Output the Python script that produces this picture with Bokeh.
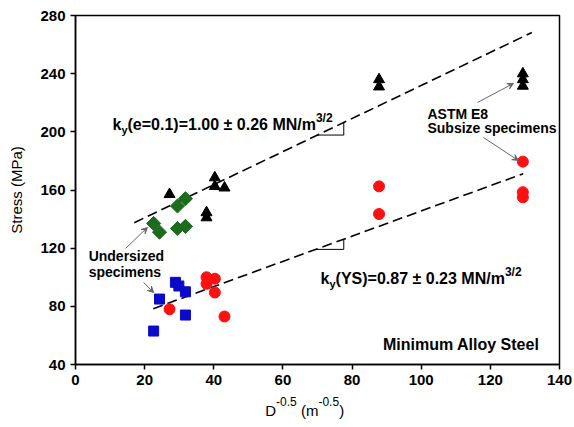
import numpy as np
from bokeh.plotting import figure
from bokeh.models import Range1d, FixedTicker, Label, Arrow, VeeHead, LinearAxis
from bokeh.embed import file_html
from bokeh.resources import INLINE

# ---------------- data ----------------
# ky(e=0.1) series: black triangles (standard) & green diamonds (undersized)
tri_x = [27.2, 37.9, 37.9, 40.3, 40.3, 43.1, 87.8, 87.8, 129.4, 129.4, 129.4]
tri_y = [157, 144.5, 141, 168.5, 162.5, 161.5, 236, 231, 240, 236, 231.5]
dia_x = [22.6, 24.3, 29.5, 31.8, 29.5, 31.8]
dia_y = [137, 131, 149, 154, 133.5, 135]
# ky(YS) series: red circles (standard) & blue squares (undersized)
circ_x = [27.2, 37.9, 37.9, 40.3, 40.3, 43.1, 87.8, 87.8, 129.4, 129.4, 129.4]
circ_y = [78, 100, 95.5, 99, 89.5, 73, 162.5, 143.5, 179.5, 158.5, 155]
sq_x = [22.6, 24.3, 28.9, 29.9, 31.8, 31.8]
sq_y = [63, 85, 96.5, 94, 90, 74]
# fitted Hall-Petch lines (end points)
fit_e_x = [17.0, 132.0]
fit_e_y = [137.5, 268.3]
fit_ys_x = [22.5, 129.5]
fit_ys_y = [78.4, 171.2]
x_ticks = [0, 20, 40, 60, 80, 100, 120, 140]
y_ticks = [40, 80, 120, 160, 200, 240, 280]

FONT = "Liberation Sans"
X0, X1 = 0, 140
FRAME_W = 574 - 75 - 15

p = figure(width=574, height=427, output_backend="svg", toolbar_location=None,
           x_range=Range1d(X0, X1), y_range=Range1d(40, 280),
           min_border_left=75, min_border_right=15, min_border_top=15, min_border_bottom=63)
p.background_fill_color = "white"
p.border_fill_color = "white"
p.outline_line_color = "black"
p.outline_line_width = 1.5
p.grid.visible = False

for ax in (p.xaxis[0], p.yaxis[0]):
    ax.axis_line_width = 1.5
    ax.major_tick_line_width = 1.5
    ax.major_tick_in = 0
    ax.major_tick_out = 5
    ax.minor_tick_line_color = None
    ax.major_label_text_font = FONT
    ax.major_label_text_font_style = "bold"
    ax.major_label_text_font_size = "15px"
    ax.major_label_text_color = "black"
p.xaxis.ticker = FixedTicker(ticks=x_ticks)
p.yaxis.ticker = FixedTicker(ticks=y_ticks)
p.yaxis.axis_label = "Stress (MPa)"
p.yaxis.axis_label_text_font = FONT
p.yaxis.axis_label_text_font_style = "normal"
p.yaxis.axis_label_text_font_size = "15px"
p.yaxis.axis_label_text_color = "black"
p.yaxis.axis_label_standoff = 12

# fitted lines
p.line(fit_e_x, fit_e_y, line_color="black", line_width=1.6, line_dash="10 5")
p.line(fit_ys_x, fit_ys_y, line_color="black", line_width=1.6, line_dash="10 5")

def line_at(xs, ys, x):
    return ys[0] + (ys[1] - ys[0]) * (x - xs[0]) / (xs[1] - xs[0])

# slope triangles
for xs, ys, x0, x1 in ((fit_e_x, fit_e_y, 70.0, 77.6), (fit_ys_x, fit_ys_y, 69.5, 77.6)):
    y0 = line_at(xs, ys, x0)
    y1 = line_at(xs, ys, x1)
    p.line([x0, x1, x1], [y0, y0, y1], line_color="black", line_width=1)

# markers
p.scatter(tri_x, tri_y, marker="triangle", size=11, color="black")
p.scatter(dia_x, dia_y, marker="square", angle=np.pi / 4, size=10, color="#1d6b1d")
p.scatter(sq_x, sq_y, marker="square", size=10, color="#0a0ac8")
p.scatter(circ_x, circ_y, marker="circle", size=11, color="#ff1010")

# ---------------- text helpers ----------------
W_BOLD = {' ': 278, '(': 333, ')': 333, '=': 584, '.': 278, '\u00b1': 549, 'M': 833, 'N': 722,
          '/': 278, 'm': 889, 'k': 556, 'e': 556, 'y': 556, 'Y': 667, 'S': 667, '-': 333}
W_REG = {' ': 278, '(': 333, ')': 333, '.': 278, '-': 333, 'D': 722, 'm': 833}

def tw(s, size, bold):
    tab = W_BOLD if bold else W_REG
    return sum(556 if c.isdigit() else tab.get(c, 556) for c in s) * size / 1000.0

def rich(x, y, parts):
    off = 0.0
    for t, s, b, dy in parts:
        p.add_layout(Label(x=x, y=y, x_offset=off, y_offset=dy, text=t,
                           text_font=FONT, text_font_size=f"{s}px",
                           text_font_style="bold" if b else "normal",
                           text_baseline="alphabetic", text_align="left",
                           text_color="black"))
        off += tw(t, s, b)

rich(10.7, 205.0, [("k", 16, True, 0), ("y", 11, True, -5),
                   ("(e=0.1)=1.00 \u00b1 0.26 MN/m", 16, True, 0), ("3/2", 12, True, 7)])
rich(70.9, 99.0, [("k", 16, True, 0), ("y", 11, True, -5),
                  ("(YS)=0.87 \u00b1 0.23 MN/m", 16, True, 0), ("3/2", 12, True, 7)])

# x-axis title with superscripts: built from two label-only axes below the main one
xt_parts = [("D", 15, False), ("-0.5", 12, True), (" (m", 15, False), ("-0.5", 12, True), (")", 15, False)]
xt_center = 66.3
px_per_unit = FRAME_W / (X1 - X0)
total = sum(tw(t, s, False) for t, s, _ in xt_parts)
cur = xt_center * px_per_unit - total / 2
sup_ticks, sup_over, base_ticks, base_over = [], {}, [], {}
for t, s, is_sup in xt_parts:
    w = tw(t, s, False)
    lt = t.strip()
    lw = tw(lt, s, False)
    c = round((cur + (w - lw) + lw / 2) / px_per_unit, 3)
    if is_sup:
        sup_ticks.append(c); sup_over[c] = lt
    else:
        base_ticks.append(c); base_over[c] = lt
    cur += w

for ticks, over, size, standoff in ((sup_ticks, sup_over, 12, 9), (base_ticks, base_over, 15, -7)):
    ax = LinearAxis(ticker=FixedTicker(ticks=ticks), major_label_overrides=over)
    ax.axis_line_color = None
    ax.major_tick_line_color = None
    ax.minor_tick_line_color = None
    ax.major_tick_in = 0
    ax.major_tick_out = 0
    ax.major_label_standoff = standoff
    ax.major_label_text_font = FONT
    ax.major_label_text_font_style = "normal"
    ax.major_label_text_font_size = f"{size}px"
    ax.major_label_text_color = "black"
    p.add_layout(ax, "below")

def lab(x, y, t, size, align="left"):
    p.add_layout(Label(x=x, y=y, text=t, text_font=FONT, text_font_size=f"{size}px",
                       text_font_style="bold", text_baseline="middle", text_align=align,
                       text_color="black"))

lab(3.8, 114.3, "Undersized", 14)
lab(3.8, 103.3, "specimens", 14)
lab(101.8, 212.6, "ASTM E8", 14)
lab(101.8, 202.3, "Subsize specimens", 14)
lab(134.2, 53.8, "Minimum Alloy Steel", 16, align="right")

# annotation arrows
for (xs, ys, xe, ye) in ((14.5, 119.8, 20.8, 134.2), (19.7, 96.4, 22.6, 89.5),
                         (116.3, 220.2, 126.7, 233.3), (118.0, 196.1, 128.1, 180.3)):
    p.add_layout(Arrow(x_start=xs, y_start=ys, x_end=xe, y_end=ye,
                       line_color="#666666", line_width=1,
                       end=VeeHead(size=6, line_color="#666666", line_width=1,
                                   fill_color="#666666")))

open("out.html", "w").write(file_html(p, INLINE))
